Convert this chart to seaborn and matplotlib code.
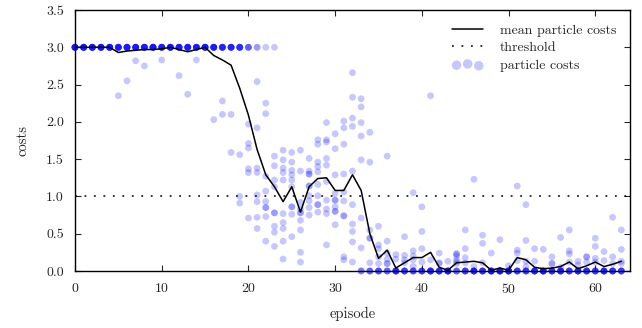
import matplotlib.pyplot as plt
import seaborn as sns
import pandas as pd

# values
episodes = list(range(64))

mean_costs = [
    3.00, 3.00, 3.00, 3.00, 3.00, 2.93, 2.95, 2.96, 2.97, 2.97,
    2.98, 3.00, 2.97, 2.94, 2.97, 3.00, 2.89, 2.83, 2.76, 2.45,
    2.09, 1.63, 1.29, 1.13, 0.93, 1.13, 0.79, 1.13, 1.24, 1.25,
    1.08, 1.08, 1.29, 1.08, 0.50, 0.17, 0.28, 0.04, 0.11, 0.18,
    0.18, 0.25, 0.05, 0.01, 0.11, 0.12, 0.13, 0.11, 0.01, 0.04,
    0.01, 0.18, 0.15, 0.05, 0.03, 0.04, 0.06, 0.12, 0.03, 0.07,
    0.12, 0.06, 0.09, 0.13,
]

threshold = 1.0

# ten particles per episode
particle_costs = [
    [3.0] * 10,
    [3.0] * 10,
    [3.0] * 10,
    [3.0] * 10,
    [3.0] * 10,
    [3.0] * 9 + [2.35],
    [3.0] * 9 + [2.55],
    [3.0] * 9 + [2.82],
    [3.0] * 9 + [2.75],
    [3.0] * 10,
    [3.0] * 9 + [2.83],
    [3.0] * 10,
    [3.0] * 9 + [2.62],
    [3.0] * 9 + [2.37],
    [3.0] * 9 + [2.83],
    [3.0] * 10,
    [3.0] * 9 + [2.03],
    [3.0] * 8 + [2.28, 2.10],
    [3.0] * 8 + [2.10, 1.59],
    [3.0] * 7 + [1.56, 1.00, 0.91],
    [3.0] * 4 + [1.97, 1.71, 1.65, 1.37, 1.32, 0.71],
    [3.0] * 2 + [2.54, 1.92, 1.38, 1.32, 1.02, 0.93, 0.72, 0.57],
    [3.0, 2.25, 2.11, 1.27, 1.07, 0.93, 0.85, 0.85, 0.73, 0.40],
    [3.0, 1.54, 1.41, 1.22, 1.13, 0.78, 0.78, 0.60, 0.52, 0.33],
    [1.62, 1.49, 1.38, 1.32, 1.22, 0.77, 0.65, 0.57, 0.40, 0.16],
    [1.59, 1.46, 1.35, 1.29, 1.22, 1.13, 0.86, 0.86, 0.76, 0.46],
    [1.62, 1.34, 0.92, 0.83, 0.78, 0.78, 0.68, 0.55, 0.25, 0.12],
    [1.51, 1.34, 1.30, 1.30, 1.14, 1.14, 1.01, 0.94, 0.85, 0.75],
    [1.76, 1.70, 1.46, 1.40, 1.33, 1.16, 1.01, 0.89, 0.89, 0.79],
    [1.99, 1.76, 1.73, 1.51, 1.42, 1.20, 0.95, 0.83, 0.77, 0.35],
    [1.84, 1.64, 1.29, 1.04, 0.95, 0.95, 0.86, 0.80, 0.80, 0.62],
    [2.01, 1.92, 1.70, 1.30, 1.06, 0.94, 0.74, 0.74, 0.19, 0.15],
    [2.66, 2.33, 2.05, 1.94, 1.34, 0.89, 0.63, 0.53, 0.39, 0.12],
    [2.31, 2.20, 1.99, 1.81, 1.49, 0.71, 0.31, 0.0, 0.0, 0.0],
    [1.86, 1.46, 0.55, 0.44, 0.44, 0.11] + [0.0] * 4,
    [0.60, 0.35, 0.30, 0.19, 0.10] + [0.0] * 5,
    [1.54, 0.40, 0.24, 0.16, 0.10, 0.10] + [0.0] * 4,
    [0.22, 0.16] + [0.0] * 8,
    [0.46, 0.21, 0.15, 0.11] + [0.0] * 6,
    [1.05, 0.27, 0.20, 0.15, 0.06] + [0.0] * 5,
    [0.86, 0.53, 0.30, 0.12] + [0.0] * 6,
    [2.35, 0.15] + [0.0] * 8,
    [0.24, 0.11, 0.10] + [0.0] * 7,
    [0.13] + [0.0] * 9,
    [0.23, 0.23, 0.20, 0.15, 0.12, 0.10] + [0.0] * 4,
    [0.55, 0.30, 0.18, 0.11] + [0.0] * 6,
    [1.23, 0.06] + [0.0] * 8,
    [0.48, 0.37, 0.11] + [0.0] * 7,
    [0.24] + [0.0] * 9,
    [0.42] + [0.0] * 9,
    [0.07] + [0.0] * 9,
    [1.14, 0.28, 0.24, 0.14] + [0.0] * 6,
    [0.89, 0.41, 0.13, 0.06] + [0.0] * 6,
    [0.30, 0.13] + [0.0] * 8,
    [0.29] + [0.0] * 9,
    [0.19, 0.10, 0.10] + [0.0] * 7,
    [0.45, 0.05] + [0.0] * 8,
    [0.55, 0.27, 0.23, 0.12] + [0.0] * 6,
    [0.13, 0.08] + [0.0] * 8,
    [0.19, 0.19, 0.12] + [0.0] * 7,
    [0.44, 0.33, 0.17, 0.12] + [0.0] * 6,
    [0.26, 0.14] + [0.0] * 8,
    [0.72, 0.19, 0.10] + [0.0] * 7,
    [0.55, 0.29, 0.13, 0.10] + [0.0] * 6,
]

rows = [(ep, c) for ep, costs in zip(episodes, particle_costs) for c in costs]
particles = pd.DataFrame(rows, columns=["episode", "cost"])
means = pd.DataFrame({"episode": episodes, "cost": mean_costs})

sns.set_theme(style="ticks")
plt.rcParams["font.family"] = ["cmr10", "DejaVu Serif"]
plt.rcParams["axes.formatter.use_mathtext"] = True
plt.rcParams["font.size"] = 10

fig = plt.figure(figsize=(6.42, 3.28), dpi=100)
ax = fig.add_axes([0.1168, 0.1738, 0.8645, 0.7957])

sns.scatterplot(data=particles, x="episode", y="cost", color="#0000ff",
                alpha=0.22, s=24, edgecolor="none", linewidth=0,
                label="particle costs", zorder=2, clip_on=False, ax=ax)
sns.lineplot(data=means, x="episode", y="cost", color="black", lw=1.1,
             label="mean particle costs", zorder=3, ax=ax)
ax.axhline(threshold, color="black", lw=1.1, ls=(0, (1.2, 5)),
           label="threshold", zorder=1)

ax.set_xlim(0, 64)
ax.set_ylim(0, 3.5)
ax.set_xticks(range(0, 61, 10))
ax.set_yticks([0, 0.5, 1.0, 1.5, 2.0, 2.5, 3.0, 3.5])
ax.yaxis.set_major_formatter(plt.FormatStrFormatter("%.1f"))
ax.set_xlabel("episode", fontsize=10.5, labelpad=8)
ax.set_ylabel("costs", fontsize=10.5, labelpad=12)
ax.tick_params(direction="in", top=True, right=True, length=4, width=0.8,
               labelsize=10, pad=8)
for sp in ax.spines.values():
    sp.set_color("black")
    sp.set_linewidth(1.0)

handles, labels = ax.get_legend_handles_labels()
order = [labels.index(l) for l in ["mean particle costs", "threshold", "particle costs"]]
ax.legend([handles[i] for i in order], [labels[i] for i in order],
          loc="upper right", frameon=False, fontsize=10, scatterpoints=3,
          markerscale=1.4, handlelength=2.2, handletextpad=1.2,
          borderaxespad=0.6, labelspacing=0.35)

fig.savefig("out.png", dpi=100)
